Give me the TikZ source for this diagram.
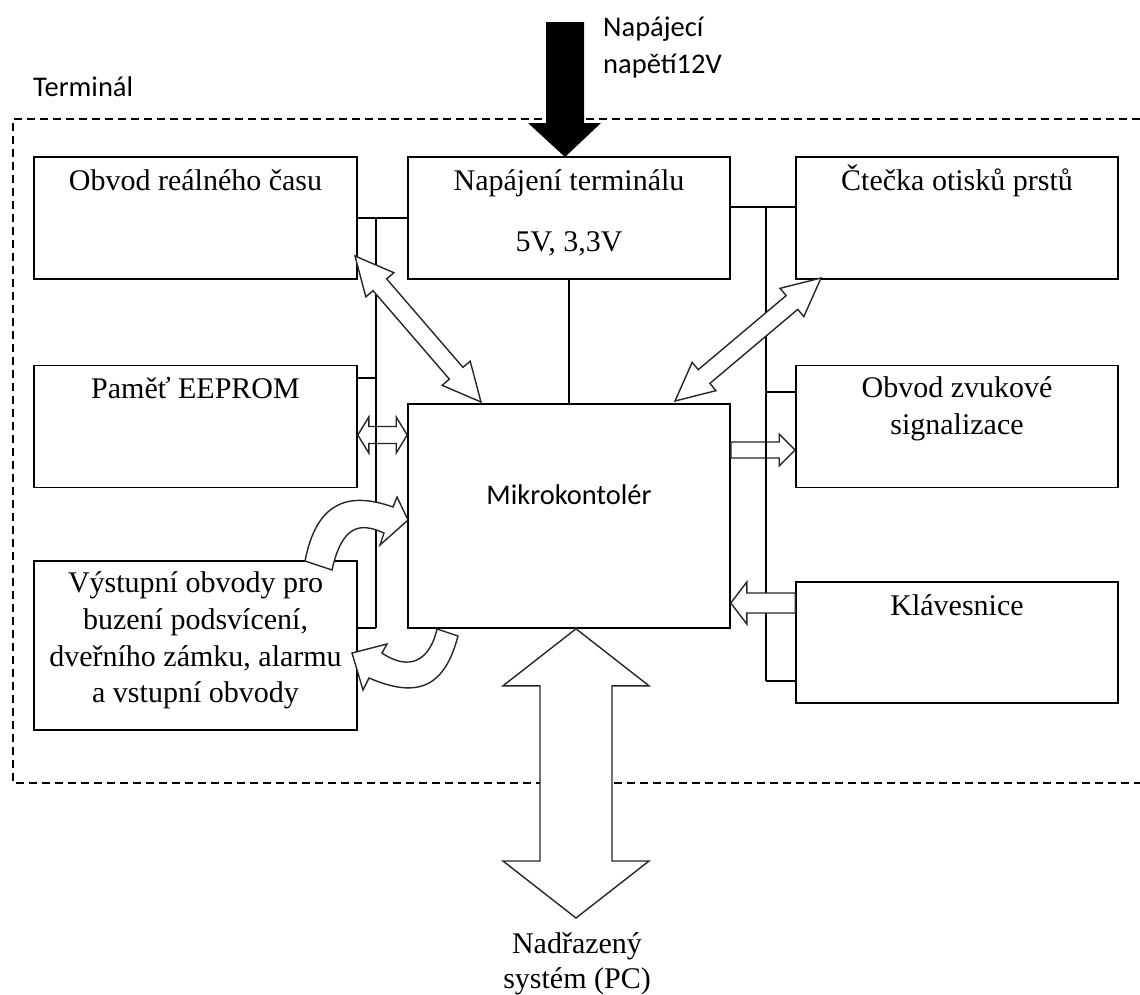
\documentclass[tikz,border=0pt]{standalone}
\usepackage{fontspec}
\setmainfont{Liberation Serif}
\newfontfamily\calfont{Carlito}
\usetikzlibrary{calc}

% double-headed block arrow: #1 options, #2 end A, #3 end B, #4 shaft half width, #5 head half width, #6 head length
\newcommand{\dblarrow}[6]{%
  \path ($(#2)!#6!(#3)$) coordinate (da1) ($(#3)!#6!(#2)$) coordinate (da2);
  \draw[#1] (#2) -- ($(da1)!#5!90:(#3)$) -- ($(da1)!#4!90:(#3)$)
    -- ($(da2)!#4!-90:(#2)$) -- ($(da2)!#5!-90:(#2)$) -- (#3)
    -- ($(da2)!#5!90:(#2)$) -- ($(da2)!#4!90:(#2)$)
    -- ($(da1)!#4!-90:(#3)$) -- ($(da1)!#5!-90:(#3)$) -- cycle;}
% single block arrow: #2 tail, #3 tip
\newcommand{\sglarrow}[6]{%
  \path ($(#3)!#6!(#2)$) coordinate (sa1);
  \draw[#1] ($(#2)!#4!90:(#3)$) -- ($(sa1)!#4!-90:(#2)$) -- ($(sa1)!#5!-90:(#2)$)
    -- (#3) -- ($(sa1)!#5!90:(#2)$) -- ($(sa1)!#4!90:(#2)$)
    -- ($(#2)!#4!-90:(#3)$) -- cycle;}

\begin{document}
\begin{tikzpicture}[x=1pt,y=-1pt,
  box/.style={draw=black, line width=1.6pt, fill=white, inner sep=0pt,
    minimum width=322pt, minimum height=122pt},
  bus/.style={draw=black, line width=1.6pt},
  blk/.style={draw=black!85, line width=1.4pt, fill=white, line join=miter},
  stx/.style={font=\fontsize{30}{36}\selectfont, anchor=base, inner sep=0pt},
  ssx/.style={font=\calfont\fontsize{28.5}{36}\selectfont, anchor=base, inner sep=0pt},
  ssw/.style={font=\calfont\fontsize{28.5}{36}\selectfont, anchor=base west, inner sep=0pt},
  term/.style={draw=black, line width=1.3pt, dash pattern=on 8pt off 5pt}]
\useasboundingbox (0,0) rectangle (1140,994);

% terminal boundary
\coordinate (tl) at (13,119);
\coordinate (bl) at (13,783);
\draw[term] (1140,119) -- (tl) -- (bl) -- (1140,783);
\node[ssw] (terminal) at (33,96) {Terminál};

% boxes
\node[box, minimum width=323pt] (rtc) at (195.5,218) {};
\node[box] (pwr) at (569,218) {};
\node[box] (fp) at (957,218) {};
\node[box, minimum width=323pt] (eep) at (195.5,426.5) {};
\node[box, minimum height=224pt] (mcu) at (569,516) {};
\node[box] (snd) at (957,426.5) {};
\node[box, minimum width=323pt, minimum height=169pt] (out) at (195.5,645.5) {};
\node[box, minimum height=121pt] (kb) at (957,642.5) {};

% arrows under the buses
\coordinate (e1) at ($(eep.east)+(0,8.5)$);
\coordinate (e2) at (mcu.west |- e1);
\dblarrow{blk}{e1}{e2}{8.5pt}{18pt}{11pt}
\coordinate (s2) at ($(snd.west)+(0,23.5)$);
\coordinate (s1) at (mcu.east |- s2);
\sglarrow{blk}{s1}{s2}{8pt}{16pt}{16pt}

% buses
\coordinate (lb1) at (376,218);
\coordinate (lbe) at (376,378);
\coordinate (lb2) at (376,628);
\draw[bus] (rtc.east) -- (pwr.west);
\draw[bus] (lb1) -- (lb2);
\draw[bus] (eep.east |- lbe) -- (lbe);
\draw[bus] (out.east |- lb2) -- (lb2);
\coordinate (rb1) at (766,207);
\coordinate (rb2) at (766,392);
\coordinate (rb4) at (766,681);
\draw[bus] (pwr.east |- rb1) -- (fp.west |- rb1);
\draw[bus] (rb1) -- (rb4);
\draw[bus] (rb2) -- (snd.west |- rb2);
\draw[bus] (rb4) -- (kb.west |- rb4);
\draw[bus] (pwr.south) -- (mcu.north);

% block arrows above the buses
\coordinate (d1a) at (355,256);
\coordinate (d1b) at (481,402);
\dblarrow{blk}{d1a}{d1b}{9pt}{18.5pt}{38pt}
\coordinate (d2a) at (821,278);
\coordinate (d2b) at (675,401);
\dblarrow{blk}{d2a}{d2b}{9pt}{18.5pt}{38pt}
\coordinate (k1) at ($(kb.west)+(0,-39.5)$);
\coordinate (k2) at (mcu.east |- k1);
\sglarrow{blk}{k1}{k2}{10pt}{21pt}{16pt}
\coordinate (pcA) at ($(mcu.south)+(7,0)$);
\coordinate (pcB) at (576,918);
\dblarrow{blk}{pcA}{pcB}{36pt}{73pt}{57pt}

% curved arrows
\draw[blk] (305,561) .. controls (316,505) and (345,490) .. (393,507)
  -- (397,497) -- (408,520) -- (380,545) -- (384,533)
  .. controls (360,522) and (342,525) .. (332,570) -- cycle;
\draw[blk] (437,629) -- (458,636) .. controls (445,685) and (420,700) .. (369,678)
  -- (363,690) -- (352,653) -- (387,644) -- (382,653)
  .. controls (410,672) and (430,660) .. (437,629) -- cycle;

% supply arrow
\fill[black] (546,22) -- (584,22) -- (584,123) -- (601,123) -- (565,157)
  -- (528,123) -- (546,123) -- cycle;
\node[ssw] (vcc1) at (603,36) {Napájecí};
\node[ssw] (vcc2) at (603,73) {napětí12V};

% texts
\node[stx] (rtct) at ($(rtc.north)+(0,34)$) {Obvod reálného času};
\node[stx] (pwrt1) at ($(pwr.north)+(0,34)$) {Napájení terminálu};
\node[stx] (pwrt2) at ($(pwr.north)+(0,95)$) {5V, 3,3V};
\node[stx] (fpt) at ($(fp.north)+(0,34)$) {Čtečka otisků prstů};
\node[stx] (eept) at ($(eep.north)+(0,34)$) {Paměť EEPROM};
\node[stx] (sndt1) at ($(snd.north)+(0,33)$) {Obvod zvukové};
\node[stx] (sndt2) at ($(snd.north)+(0,70)$) {signalizace};
\node[stx] (kbt) at ($(kb.north)+(0,34)$) {Klávesnice};
\node[stx] (outt1) at ($(out.north)+(0,32)$) {Výstupní obvody pro};
\node[stx] (outt2) at ($(out.north)+(0,69)$) {buzení podsvícení,};
\node[stx] (outt3) at ($(out.north)+(0,106)$) {dveřního zámku, alarmu};
\node[stx] (outt4) at ($(out.north)+(0,142)$) {a vstupní obvody};
\node[ssx] (mcut) at ($(mcu.north)+(0,101)$) {Mikrokontolér};
\node[stx] (pct1) at (577,953) {Nadřazený};
\node[stx] (pct2) at (577,988) {systém (PC)};
\end{tikzpicture}
\end{document}
